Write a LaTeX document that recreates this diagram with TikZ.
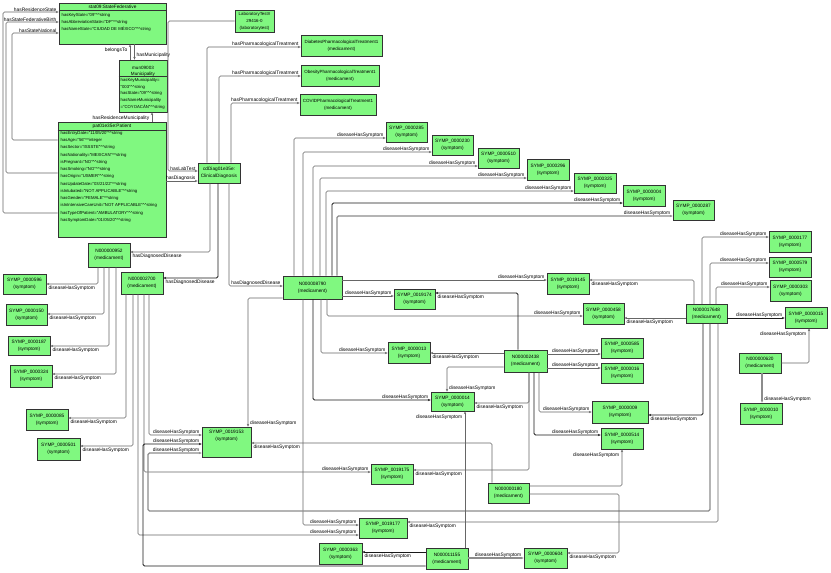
\documentclass[tikz,border=0pt]{standalone}
\usepackage{fontspec}
\setmainfont{Liberation Sans}
\usetikzlibrary{arrows.meta}
\newcommand\dcar{\textasciicircum\textasciicircum}
\newcommand\fsz{\fontsize{4.9}{6.8}\selectfont}
\newcommand\fbx{\fontsize{4.75}{6.8}\selectfont}
\newcommand\fat{\fontsize{4.25}{7}\selectfont}
\definecolor{ngreen}{RGB}{128,248,128}
\begin{document}
\begin{tikzpicture}[x=1pt,y=-1pt,font=\fsz,
  box/.style={draw=black!80, fill=ngreen, line width=0.7pt, inner sep=0pt, align=center, font=\fbx},
  sym/.style={box, minimum width=42pt, minimum height=21pt},
  edge/.style={draw=black!60, line width=0.6pt, rounded corners=1.5pt, -{Stealth[length=2.8pt,width=2.4pt]}},
  edk/.style={edge, draw=black!90, line width=0.9pt},
  egr/.style={edge, draw=black!45, line width=1.1pt},
  lbl/.style={font=\fsz, inner sep=0.4pt, text=black},
  la/.style={lbl, pos=1, anchor=south east, xshift=-1.5pt},
  lb/.style={lbl, pos=1, anchor=north west, xshift=1.5pt, yshift=-0.8pt},
  attr/.style={font=\fat, inner sep=0pt, align=left, anchor=north west},
  sep/.style={draw=black!80, line width=0.5pt}]
\useasboundingbox[fill=white] (0,0) rectangle (831,573);

% ---------- class-like boxes ----------
\node[box, minimum width=107pt, minimum height=41pt] (state) at (112.5,23.5) {};
\node[lbl, font=\fbx] (stateT) at (112.5,6.8) {stat09:StateFederative};
\draw[sep] (state.west |- 0,10) -- (state.east |- 0,10);
\node[attr] (stateA) at (61.5,12.8) {hasKeyState="09"\dcar string\\hasAbbreviationState="DF"\dcar string\\hasNameState="CIUDAD DE MÉXICO"\dcar string};

\node[box, minimum width=48pt, minimum height=52pt] (mun) at (143,86) {};
\node[lbl, align=center, font=\fontsize{4.6}{5.8}\selectfont] (munT) at (143,71) {mun09003\\Municipality};
\draw[sep] (mun.west |- 0,76.5) -- (mun.east |- 0,76.5);
\node[attr, font=\fontsize{4.25}{6.8}\selectfont] (munA) at (120.5,78) {hasKeyMunicipality=\\"003"\dcar string\\hasState="09"\dcar string\\hasNameMunicipality\\="COYOACÁN"\dcar string};

\node[box, minimum width=108pt, minimum height=115pt] (patient) at (112,179.5) {};
\node[lbl, font=\fbx] (patT) at (112,126.5) {pat01e35e:Patient};
\draw[sep] (patient.west |- 0,130) -- (patient.east |- 0,130);
\node[attr, font=\fontsize{4.25}{7.25}\selectfont] (patA) at (60.5,131) {hasEntryDate="11/05/20"\dcar string\\hasAge="56"\dcar integer\\hasSector="ISSSTE"\dcar string\\hasNationality="MEXICAN"\dcar string\\isPregnant="NO"\dcar string\\hasSmoking="NO"\dcar string\\hasOrigin="USMER"\dcar string\\hasUpdateDate="03/21/22"\dcar string\\isIntubated="NOT APPLICABLE"\dcar string\\hasGender="FEMALE"\dcar string\\isInIntensiveCareUnit="NOT APPLICABLE"\dcar string\\hasTypeOfPatient="AMBULATORY"\dcar string\\hasSymptomDate="01/05/20"\dcar string};

\node[box, minimum width=39pt, minimum height=22pt, font=\fontsize{4.4}{7}\selectfont] (lab) at (254.5,21) {LaboratoryTest\#\\29416-0\\(laboratorytest)};
\node[box, minimum width=42pt, minimum height=20pt] (cdiag) at (219,173) {cdDiag01e35e:\\ClinicalDiagnosis};
\node[box, minimum width=81pt, minimum height=21pt, font=\fontsize{4.5}{6.8}\selectfont] (diab) at (341.5,45.5) {DiabetesPharmacologicalTreatment1\\(medicament)};
\node[box, minimum width=78pt, minimum height=21pt, font=\fontsize{4.5}{6.8}\selectfont] (obes) at (340,75.5) {ObesityPharmacologicalTreatment1\\(medicament)};
\node[box, minimum width=76pt, minimum height=21pt, font=\fontsize{4.5}{6.8}\selectfont] (covid) at (338,104.5) {COVIDPharmacologicalTreatment1\\(medicament)};

% ---------- medicaments ----------
\node[sym, minimum height=24pt] (n952) at (109,255) {N000000952\\(medicament)};
\node[sym, minimum height=22pt] (n2700) at (142,283) {N000002700\\(medicament)};
\node[sym, minimum width=59pt, minimum height=23pt] (n8790) at (312.5,287.5) {N000008790\\(medicament)};
\node[sym, minimum width=41pt, minimum height=19pt] (n17648) at (706.5,314) {N000017648\\(medicament)};
\node[sym, minimum width=43pt, minimum height=22pt] (n2438) at (525.5,361) {N000002438\\(medicament)};
\node[sym, minimum height=20pt] (n620) at (760,363) {N000000620\\(medicament)};
\node[sym, minimum width=41pt, minimum height=20pt] (n180) at (508.5,493) {N000000180\\(medicament)};
\node[sym] (n11155) at (447,558.5) {N000011155\\(medicament)};

% ---------- symptoms ----------
\node[sym, minimum width=43pt, minimum height=20pt] (s596) at (24.5,284) {SYMP\_0000596\\(symptom)};
\node[sym, minimum width=41pt] (s150) at (26.5,314.5) {SYMP\_0000150\\(symptom)};
\node[sym, minimum height=19pt] (s187) at (29,345.5) {SYMP\_0000187\\(symptom)};
\node[sym, minimum height=22pt] (s324) at (31,376) {SYMP\_0000324\\(symptom)};
\node[sym] (s085) at (47,419.5) {SYMP\_0000085\\(symptom)};
\node[sym, minimum width=43pt, minimum height=22pt] (s501) at (58.5,449) {SYMP\_0000501\\(symptom)};
\node[sym, minimum width=41pt, minimum height=20pt] (s285) at (406.5,132) {SYMP\_0000285\\(symptom)};
\node[sym, minimum width=41pt, minimum height=20pt] (s230) at (452.5,145) {SYMP\_0000230\\(symptom)};
\node[sym, minimum width=41pt, minimum height=20pt] (s510) at (498.5,158) {SYMP\_0000510\\(symptom)};
\node[sym] (s296) at (548,169.5) {SYMP\_0000296\\(symptom)};
\node[sym, minimum height=20pt] (s325) at (595,183) {SYMP\_0000325\\(symptom)};
\node[sym] (s004) at (644,195.5) {SYMP\_0000004\\(symptom)};
\node[sym, minimum width=41pt, minimum height=20pt] (s287) at (693.5,210) {SYMP\_0000287\\(symptom)};
\node[sym] (s177) at (790,241.5) {SYMP\_0000177\\(symptom)};
\node[sym, minimum height=20pt] (s579) at (790,267) {SYMP\_0000579\\(symptom)};
\node[sym, minimum width=41pt] (s303) at (790.5,290.5) {SYMP\_0000303\\(symptom)};
\node[sym] (s015) at (806,317.5) {SYMP\_0000015\\(symptom)};
\node[sym] (s010) at (761,413.5) {SYMP\_0000010\\(symptom)};
\node[sym] (s19145) at (568,283.5) {SYMP\_0019145\\(symptom)};
\node[sym, minimum width=41pt] (s458) at (603.5,313.5) {SYMP\_0000458\\(symptom)};
\node[sym, minimum width=41pt, minimum height=20pt] (s19174) at (414.5,299) {SYMP\_0019174\\(symptom)};
\node[sym] (s013) at (409,352.5) {SYMP\_0000013\\(symptom)};
\node[sym, minimum width=43pt, minimum height=19pt] (s014) at (452.5,401.5) {SYMP\_0000014\\(symptom)};
\node[sym, minimum height=20pt] (s585) at (622,348) {SYMP\_0000585\\(symptom)};
\node[sym, minimum height=20pt] (s016) at (622,373) {SYMP\_0000016\\(symptom)};
\node[sym, minimum width=56pt, minimum height=22pt] (s009) at (620,412) {SYMP\_0000009\\(symptom)};
\node[sym] (s514) at (622,438.5) {SYMP\_0000514\\(symptom)};
\node[sym, minimum width=49pt, minimum height=30pt] (s19153) at (226.5,442) {SYMP\_0019153\\(symptom)\\[7pt]\mbox{}};
\node[sym, minimum height=20pt] (s19175) at (392,474) {SYMP\_0019175\\(symptom)};
\node[sym, minimum width=48pt, minimum height=20pt] (s19177) at (383,528) {SYMP\_0019177\\(symptom)};
\node[sym, minimum width=43pt] (s363) at (340.5,553.5) {SYMP\_0000363\\(symptom)};
\node[sym, minimum width=43pt, minimum height=20pt] (s604) at (545.5,558) {SYMP\_0000604\\(symptom)};

% ---------- patient / state / municipality ----------
\draw[edge] (patient.west |- 0,213) -- (3,213) -- (3,12) -- (state.west |- 0,12) node[la]{hasResidenceState};
\draw[edge] (patient.west |- 0,173) -- (6,173) -- (6,22) -- (state.west |- 0,22) node[la]{hasStateFederativeBirth};
\draw[edge] (patient.west |- 0,140) -- (12,140) -- (12,33) -- (state.west |- 0,33) node[la]{hasStateNational};
\draw[edge] (mun.north -| 130,0) -- (state.south -| 130,0) node[lbl,pos=1,anchor=north east,xshift=-2pt,yshift=-3pt]{belongsTo};
\draw[edge] (state.south -| 134.5,0) -- (mun.north -| 134.5,0) node[lbl,pos=1,anchor=south west,xshift=1.5pt,yshift=1pt]{hasMunicipality};
\draw[edge] (patient.north -| 152,0) -- (mun.south -| 152,0) node[lbl,pos=1,anchor=north east,xshift=-2pt,yshift=-3pt]{hasResidenceMunicipality};

% ---------- diagnosis ----------
\draw[edge] (lab.west) -- (168,21) -- (168,171) -- (cdiag.west |- 0,171) node[la]{hasLabTest};
\draw[edge] (patient.east |- 0,181) -- (cdiag.west |- 0,181) node[la]{hasDiagnosis};
\draw[edge] (cdiag.north -| 207,0) |- (diab.west |- 0,47) node[la]{hasPharmacologicalTreatment};
\draw[edge] (cdiag.north -| 219,0) |- (obes.west |- 0,76) node[la]{hasPharmacologicalTreatment};
\draw[edge] (cdiag.north -| 231,0) |- (covid.west |- 0,103) node[la]{hasPharmacologicalTreatment};
\draw[edge] (cdiag.south -| 210,0) |- (n952.east |- 0,252) node[lb]{hasDiagnosedDisease};
\draw[edk] (cdiag.south -| 218,0) |- (n2700.east |- 0,278) node[lb]{hasDiagnosedDisease};
\draw[edge] (cdiag.south -| 229,0) |- (n8790.west |- 0,286) node[la]{hasDiagnosedDisease};

% ---------- N000000952 ----------
\draw[edge] (n952.south -| 98,0) |- (s596.east |- 0,284) node[lb]{diseaseHasSymptom};
\draw[edge] (n952.south -| 104,0) |- (s150.east |- 0,314) node[lb]{diseaseHasSymptom};
\draw[edge] (n952.south -| 109,0) |- (s187.east |- 0,346) node[lb]{diseaseHasSymptom};
\draw[edge] (n952.south -| 116,0) |- (s324.east |- 0,374) node[lb]{diseaseHasSymptom};

% ---------- N000002700 ----------
\draw[edge] (n2700.south -| 126,0) |- (s085.east |- 0,418) node[lb]{diseaseHasSymptom};
\draw[edge] (n2700.south -| 133,0) |- (s501.east |- 0,446) node[lb]{diseaseHasSymptom};
\draw[edge] (n2700.south -| 138,0) |- (s19177.west |- 0,535) node[la]{diseaseHasSymptom};
\draw[edge] (n2700.south -| 149,0) |- (s19153.west |- 0,435) node[la]{diseaseHasSymptom};
\draw[edge] (n2700.south -| 144,0) |- (s19175.west |- 0,472) node[la]{diseaseHasSymptom};

% ---------- N000008790 ----------
\draw[edge] (n8790.north -| 294,0) |- (s285.west |- 0,138) node[la]{diseaseHasSymptom};
\draw[edge] (n8790.north -| 303,0) |- (s230.west |- 0,152) node[la]{diseaseHasSymptom};
\draw[edge] (n8790.north -| 313,0) |- (s510.west |- 0,166) node[la]{diseaseHasSymptom};
\draw[edge] (n8790.north -| 320,0) |- (s296.west |- 0,178) node[la]{diseaseHasSymptom};
\draw[edge] (n8790.north -| 326,0) |- (s325.west |- 0,191) node[la]{diseaseHasSymptom};
\draw[edk] (n8790.north -| 332,0) |- (s004.west |- 0,203) node[la]{diseaseHasSymptom};
\draw[egr] (n8790.north -| 337,0) |- (s287.west |- 0,216) node[la]{diseaseHasSymptom};
\draw[edge] (n8790.east |- 0,280) -- (s19145.west |- 0,280) node[la]{diseaseHasSymptom};
\draw[edge] (n8790.east |- 0,296) -- (s19174.west |- 0,296) node[la]{diseaseHasSymptom};
\draw[edge] (n8790.south -| 327,0) |- (s458.west |- 0,316) node[la]{diseaseHasSymptom};
\draw[edge] (n8790.south -| 321,0) |- (s013.west |- 0,353) node[la]{diseaseHasSymptom};
\draw[edk] (n8790.south -| 313,0) |- (s014.west |- 0,400) node[la]{diseaseHasSymptom};
\draw[edge] (n8790.south -| 303,0) |- (s19177.west |- 0,525) node[la]{diseaseHasSymptom};
\draw[edge] (n8790.west |- 0,298) -| (s19153.north -| 248,0) node[lbl,pos=1,anchor=south west,xshift=1.5pt]{diseaseHasSymptom};

% ---------- N000017648 ----------
\draw[edge] (n17648.north -| 702,0) |- (s177.west |- 0,237) node[la]{diseaseHasSymptom};
\draw[edge] (n17648.north -| 710,0) |- (s579.west |- 0,263) node[la]{diseaseHasSymptom};
\draw[edge] (n17648.north -| 716,0) |- (s303.west |- 0,287) node[la]{diseaseHasSymptom};
\draw[edk] (n17648.east |- 0,318) -- (s015.west |- 0,318) node[la]{diseaseHasSymptom};
\draw[edge] (n17648.west |- 0,318) -- (s458.east |- 0,318) node[lb]{diseaseHasSymptom};
\draw[edge] (n17648.north -| 694,0) |- (s19145.east |- 0,280) node[lb]{diseaseHasSymptom};
\draw[edk] (n17648.south -| 703,0) |- (s009.east |- 0,415) node[lb]{diseaseHasSymptom};
\draw[edge] (n17648.south -| 718,0) |- (s19177.east |- 0,522) node[lb]{diseaseHasSymptom};
\draw[egr] (n17648.south -| 710,0) -- (710,511) -- (148,511) -- (148,453) -- (s19153.west |- 0,453) node[la]{diseaseHasSymptom};

% ---------- N000000620 ----------
\draw[edge] (n620.east |- 0,363) -| (s015.south -| 809,0) node[lbl,pos=1,anchor=north east,xshift=-2pt,yshift=-3pt]{diseaseHasSymptom};
\draw[egr] (n620.south -| 762,0) -- (s010.north -| 762,0) node[lbl,pos=1,anchor=south west,xshift=1.5pt,yshift=0.5pt]{diseaseHasSymptom};

% ---------- N000002438 ----------
\draw[edk] (n2438.north -| 518,0) |- (s19174.east |- 0,293) node[lb]{diseaseHasSymptom};
\draw[edge] (n2438.west |- 0,353) -- (s013.east |- 0,353) node[lb]{diseaseHasSymptom};
\draw[edge] (n2438.west |- 0,367) -| (s014.north -| 447,0) node[lbl,pos=1,anchor=south west,xshift=1.5pt]{diseaseHasSymptom};
\draw[edge] (n2438.east |- 0,354) -- (s585.west |- 0,354) node[la]{diseaseHasSymptom};
\draw[edge] (n2438.east |- 0,368) -- (s016.west |- 0,368) node[la]{diseaseHasSymptom};
\draw[edge] (n2438.south -| 539,0) |- (s009.west |- 0,412) node[la]{diseaseHasSymptom};
\draw[edk] (n2438.south -| 534,0) |- (s514.west |- 0,435) node[la]{diseaseHasSymptom};
\draw[edge] (n2438.south -| 529,0) |- (s014.east |- 0,403) node[lb]{diseaseHasSymptom};
\draw[edge] (n2438.south -| 529,0) |- (s19175.east |- 0,470) node[lb]{diseaseHasSymptom};

% ---------- N000000180 ----------
\draw[edge] (n180.north -| 492,0) |- (s19153.east |- 0,443) node[lb]{diseaseHasSymptom};
\draw[edge] (n180.east |- 0,486) -| (s514.south -| 622,0) node[lbl,pos=1,anchor=north east,xshift=-2pt,yshift=-3pt]{diseaseHasSymptom};
\draw[edge] (n180.east |- 0,494) -- (619,494) -- (619,553) -- (s604.east |- 0,553) node[lb]{diseaseHasSymptom};

% ---------- N000011155 ----------
\draw[edk] (n11155.west |- 0,552) -- (s363.east |- 0,552) node[lb]{diseaseHasSymptom};
\draw[egr] (n11155.east |- 0,558) -- (s604.west |- 0,558) node[la]{diseaseHasSymptom};
\draw[edge] (n11155.north -| 465,0) -- (s014.south -| 465,0) node[lbl,pos=1,anchor=north east,xshift=-2pt,yshift=-3pt]{diseaseHasSymptom};
\draw[edk] (n11155.west |- 0,566) -- (143,566) -- (143,444) -- (s19153.west |- 0,444) node[la]{diseaseHasSymptom};
\end{tikzpicture}
\end{document}
